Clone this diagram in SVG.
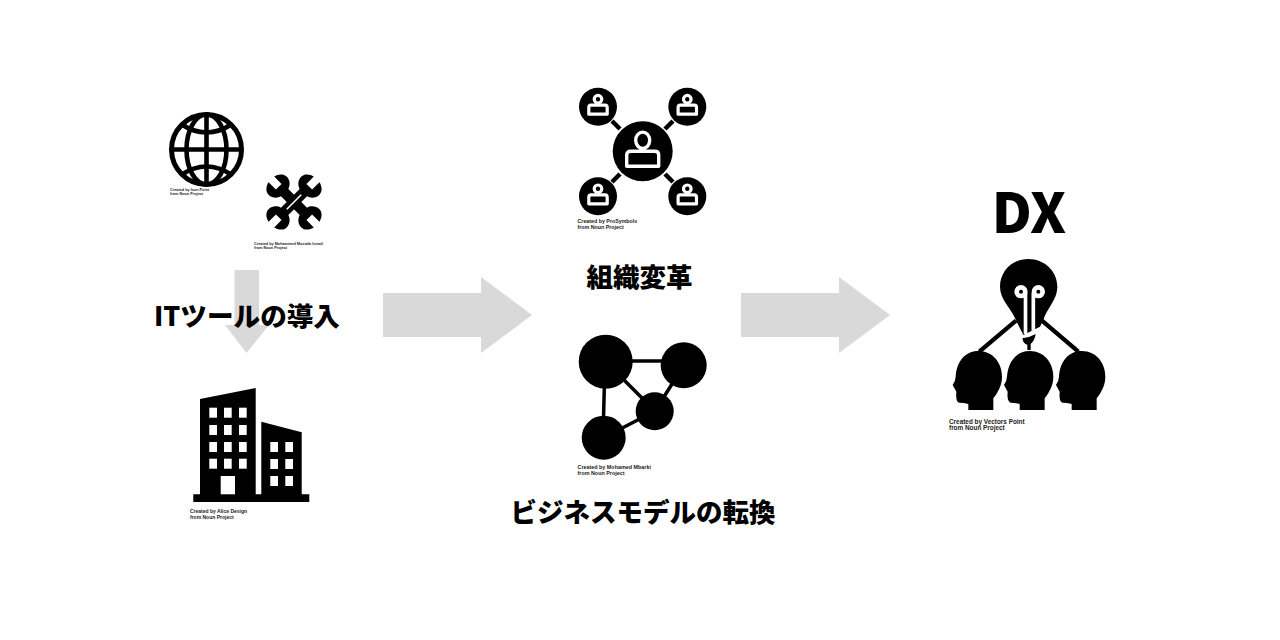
<svg xmlns="http://www.w3.org/2000/svg" width="1280" height="640" viewBox="0 0 1280 640">
<style>
.a{fill:#d9d9d9}
.c{font-family:"Liberation Sans",Arial,sans-serif;font-weight:700;fill:#222}
.t{font-family:"Noto Sans CJK JP","Noto Sans",sans-serif;font-weight:900;fill:#000;text-anchor:middle}
.k{fill:#000}.w{fill:#fff}
.wl{fill:none;stroke:#fff}
.bl{fill:none;stroke:#000}
</style>
<defs>
<g id="person"><path d="M-9.200,7.500V1Q-9.200,-1.500 -7,-1.500H7Q9.200,-1.500 9.200,1V7.500Z" class="k" stroke="#fff" stroke-width="3.200" stroke-linejoin="round"/><circle cx="0" cy="-7.500" r="3.800" class="k" stroke="#fff" stroke-width="3.200"/></g>
<g id="person-big"><path d="M-16,15V3.500Q-16,0 -12,0H12Q16,0 16,3.500V15Z" class="k" stroke="#fff" stroke-width="3.400" stroke-linejoin="round"/><ellipse cx="0" cy="-11" rx="7" ry="8.200" class="k" stroke="#fff" stroke-width="3.400"/></g>
<path id="head" d="M85,480V462Q70,458 58,458Q46,455 49,425L38,405Q46,395 47,380C50,335 75,303 115,303C160,303 186,340 186,380C186,405 175,425 160,445V480Z"/>
<path id="wrench" class="k" d="M-5,-27V-40C-10,-39 -16,-35 -16,-29C-16,-22 -11,-18 -6.500,-16.500V16.500C-11,18 -16,22 -16,29C-16,35 -10,39 -5,40V27H5V40C10,39 16,35 16,29C16,22 11,18 6.500,16.500V-16.500C11,-18 16,-22 16,-29C16,-35 10,-39 5,-40V-27Z"/>
</defs>
<rect width="1280" height="640" fill="#fff"/>
<g id="connectors">
<path class="a" d="M234.500,270H259V325H269L246.500,353L225,325H234.500Z"/>
<path class="a" d="M383,293H481V277L532,315L481,353V337H383Z"/>
<path class="a" d="M741,293H839V277L890,315L839,353V337H741Z"/>
</g>
<g id="node-globe">
<circle cx="206.500" cy="149.500" r="35" class="bl" stroke-width="5"/>
<ellipse cx="206.500" cy="149.500" rx="20" ry="35" class="bl" stroke-width="4.600"/>
<path d="M206.500,113V186M170,149.500H243" class="bl" stroke-width="4.600"/>
<path d="M181,124Q206.500,141 232,124M181,175Q206.500,158 232,175" class="bl" stroke-width="4.600"/>
<text class="c" font-size="3.800" x="170" y="191">Created by Icon Point</text>
<text class="c" font-size="3.800" x="170" y="195">from Noun Project</text>
</g>
<g id="node-tools">
<g transform="translate(294,202) scale(0.8)">
<use href="#wrench" transform="rotate(-45)"/>
<use href="#wrench" transform="rotate(45)"/>
<path d="M-9,9L9,-9" stroke="#fff" stroke-width="2"/>
</g>
<text class="c" font-size="3.800" x="254" y="245">Created by Mohammed Mostafa Ismail</text>
<text class="c" font-size="3.800" x="254" y="249">from Noun Project</text>
</g>
<text class="t" font-size="26.600" x="247" y="325.500">ITツールの導入</text>
<g id="node-building">
<path class="k" d="M193.300,494.300H200V399L255.700,388V494.300H261.300V421.700L301.700,432.300V494.300H309.300V502H193.300Z"/>
<g class="w">
<rect x="209.300" y="407.700" width="7.700" height="10"/><rect x="224" y="407.700" width="7.700" height="10"/><rect x="239" y="407.700" width="7.700" height="10"/>
<rect x="209.300" y="425" width="7.700" height="10"/><rect x="224" y="425" width="7.700" height="10"/><rect x="239" y="425" width="7.700" height="10"/>
<rect x="209.300" y="442" width="7.700" height="10"/><rect x="224" y="442" width="7.700" height="10"/><rect x="239" y="442" width="7.700" height="10"/>
<rect x="209.300" y="458.700" width="7.700" height="10"/><rect x="224" y="458.700" width="7.700" height="10"/><rect x="239" y="458.700" width="7.700" height="10"/>
<rect x="220.700" y="476" width="14.300" height="18.300"/>
<rect x="270.300" y="442" width="7.700" height="10"/><rect x="285.300" y="442" width="7.700" height="10"/>
<rect x="270.300" y="459" width="7.700" height="10"/><rect x="285.300" y="459" width="7.700" height="10"/>
<rect x="270.300" y="476" width="7.700" height="10"/><rect x="285.300" y="476" width="7.700" height="10"/>
</g>
<text class="c" font-size="5" x="190" y="513">Created by Alice Design</text>
<text class="c" font-size="5" x="190" y="518.500">from Noun Project</text>
</g>
<g id="node-org">
<path d="M612,121L620,129M673,121L665,129M612,182L620,174M673,182L665,174" class="bl" stroke-width="4.500"/>
<circle cx="642.700" cy="151.300" r="30" class="k"/>
<circle cx="598" cy="106.700" r="19" class="k"/><circle cx="687.300" cy="106.700" r="19" class="k"/><circle cx="598" cy="196.300" r="19" class="k"/><circle cx="687.300" cy="196.300" r="19" class="k"/>
<use href="#person-big" transform="translate(642.700,151.300)"/>
<use href="#person" transform="translate(598,106.700)"/>
<use href="#person" transform="translate(687.300,106.700)"/>
<use href="#person" transform="translate(598,196.300)"/>
<use href="#person" transform="translate(687.300,196.300)"/>
<text class="c" font-size="5.300" x="577.500" y="223">Created by ProSymbols</text>
<text class="c" font-size="5.300" x="577.500" y="229">from Noun Project</text>
</g>
<text class="t" font-size="26.500" x="639.500" y="287">組織変革</text>
<g id="node-model">
<path d="M605,361H684M605,361L655,411M684,365L655,411M605,361L603,438M655,411L603,438" class="bl" stroke-width="3.500"/>
<circle cx="605.700" cy="361.700" r="27" class="k"/><circle cx="683.700" cy="365.300" r="23" class="k"/><circle cx="654.700" cy="411.300" r="19" class="k"/><circle cx="603.700" cy="437.700" r="22" class="k"/>
<text class="c" font-size="5.400" x="577.500" y="469">Created by Mohamed Mbarki</text>
<text class="c" font-size="5.400" x="577.500" y="475">from Noun Project</text>
</g>
<text class="t" font-size="26.500" x="643" y="522">ビジネスモデルの転換</text>
<text class="t" font-size="55" x="1029" y="232.500">DX</text>
<g id="node-dx">
<g transform="translate(940,250) scale(0.33333)">
<path d="M228,212L118,305M306,212L415,305" class="bl" stroke-width="13"/>
<path class="k" d="M265,27C215,27 180,65 180,110C180,150 215,175 230,215L250,255L300,230L310,210C320,175 352,150 352,110C352,65 315,27 265,27Z"/>
<path class="k" d="M247,265Q268,263 287,252Q284,272 272,282V300H262V284Q250,282 247,265Z"/>
<path d="M256.500,128V252M280,128V242" class="wl" stroke-width="11"/>
<circle cx="243" cy="125" r="13" class="k" stroke="#fff" stroke-width="14"/><circle cx="295" cy="125" r="13" class="k" stroke="#fff" stroke-width="14"/>
<use href="#head"/><use href="#head" x="154"/><use href="#head" x="310"/>
</g>
<text class="c" font-size="6.400" x="949" y="423.500">Created by Vectors Point</text>
<text class="c" font-size="6.400" x="949" y="430">from Noun Project</text>
</g>
</svg>
